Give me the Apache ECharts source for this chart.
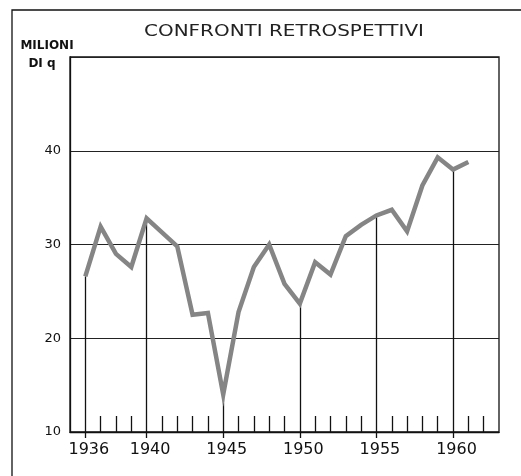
<!DOCTYPE html>
<html>
<head>
<meta charset="utf-8">
<script src="https://cdn.jsdelivr.net/npm/echarts@6/dist/echarts.min.js"></script>
<style>
html,body{margin:0;padding:0;background:#fff;}
#chart{width:521px;height:476px;}
</style>
</head>
<body>
<div id="chart"></div>
<script>
// ---- data ----
const years = [1936,1937,1938,1939,1940,1941,1942,1943,1944,1945,1946,1947,1948,1949,1950,1951,1952,1953,1954,1955,1956,1957,1958,1959,1960,1961];
const production = [26.6,31.9,29.0,27.6,32.8,31.3,29.8,22.5,22.7,14.0,22.8,27.6,30.0,25.8,23.7,28.1,26.8,30.9,32.1,33.1,33.7,31.4,36.3,39.3,38.0,38.8];
const labelYears = [1936,1940,1945,1950,1955,1960];
const minorYears = [1937,1938,1939,1941,1942,1943,1944,1946,1947,1948,1949,1951,1952,1953,1954,1956,1957,1958,1959,1961,1962];
const yTicks = [10,20,30,40];
const titleText = 'CONFRONTI RETROSPETTIVI';
const unitLine1 = 'MILIONI';
const unitLine2 = 'DI q';

const chart = echarts.init(document.getElementById('chart'), null, {renderer:'canvas'});
const seriesData = years.map((y,i)=>[y, production[i]]);
const dropLines = labelYears.map(y => {
  const v = production[years.indexOf(y)];
  return [{coord:[y,10]},{coord:[y,v]}];
});

const option = {
  backgroundColor:'#fff',
  animation:false,
  grid:{left:70, top:57, right:22, bottom:44, show:true, borderColor:'#111', borderWidth:1.3, backgroundColor:'transparent'},
  xAxis:[{
    type:'value', min:1935, max:1963, interval:1,
    axisLine:{show:true, lineStyle:{color:'#111', width:1.3}},
    splitLine:{show:false},
    axisTick:{show:true, inside:true, length:16, customValues:minorYears, lineStyle:{color:'#111', width:1.3}},
    axisLabel:{show:true, customValues:labelYears, margin:10, padding:[0,0,0,7],
      fontFamily:'DejaVu Sans', fontSize:16, color:'#111', formatter:v=>String(v)}
  },{
    type:'value', min:1935, max:1963, position:'bottom',
    axisLine:{show:false},
    splitLine:{show:false},
    axisTick:{show:true, inside:false, length:6, customValues:labelYears, lineStyle:{color:'#111', width:1.3}},
    axisLabel:{show:false}
  }],
  yAxis:{
    type:'value', min:10, max:50, interval:10,
    axisLine:{show:true, lineStyle:{color:'#111', width:1.3}},
    axisTick:{show:false},
    splitLine:{show:true, lineStyle:{color:'#222', width:1.1}},
    axisLabel:{margin:9, fontFamily:'DejaVu Sans', fontSize:13, color:'#111',
      formatter:v=> yTicks.indexOf(v) >= 0 ? String(v) : ''}
  },
  series:[{
    type:'line', xAxisIndex:0, data:seriesData, z:5,
    symbol:'none',
    lineStyle:{color:'#858585', width:4.5, join:'miter'},
    markLine:{
      silent:true, symbol:['none','none'], z:2,
      label:{show:false},
      lineStyle:{color:'#111', width:1.3, type:'solid'},
      data:dropLines
    }
  }],
  graphic:[
    {type:'polyline', shape:{points:[[12,476],[12,10],[521,10]]}, style:{stroke:'#111', lineWidth:1.3, fill:null}},
    {type:'text', x:284, y:32, scaleX:1.33, style:{text:titleText, font:'15px "DejaVu Sans"', fill:'#222', textAlign:'center', textVerticalAlign:'middle'}},
    {type:'text', x:47, y:46, style:{text:unitLine1, font:'bold 12px "DejaVu Sans"', fill:'#111', textAlign:'center', textVerticalAlign:'middle'}},
    {type:'text', x:42, y:64, style:{text:unitLine2, font:'bold 12px "DejaVu Sans"', fill:'#111', textAlign:'center', textVerticalAlign:'middle'}}
  ]
};
chart.setOption(option);
</script>
</body>
</html>
